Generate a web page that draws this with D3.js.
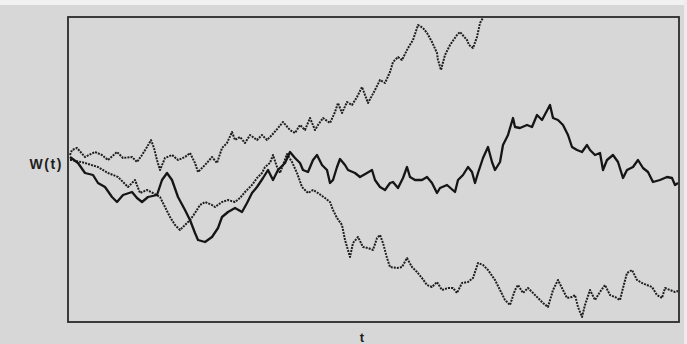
<!DOCTYPE html>
<html><head><meta charset="utf-8">
<script src="https://cdn.jsdelivr.net/npm/d3@7"></script>
<style>
html,body{margin:0;padding:0;background:#dadada;}
svg{display:block;}
</style></head>
<body>
<svg id="c" width="687" height="344"></svg>
<script>
// t = time step index, W = path value
const pathA_t = [2,4,9,17,27,34,40,49,55,64,69,74,79,83,86,89,92,97,104,110,117,122,127,130,137,144,149,154,159,164,167,172,177,182,189,194,199,204,210,215,222,227,232,237,242,247,250,255,262,267,270,274,279,284,289,294,297,300,307,312,317,322,325,330,334,340,345,350,355,359,364,369,370,373,377,382,389,392,399,401,405,409,412,415];
const pathA_W = [0.00,0.05,0.07,-0.02,0.03,0.00,-0.05,0.03,-0.03,-0.02,-0.07,0.00,0.08,0.15,0.07,-0.05,-0.15,-0.03,0.00,-0.05,-0.02,0.02,-0.08,-0.17,-0.10,-0.02,-0.08,0.07,0.12,0.23,0.15,0.18,0.12,0.20,0.15,0.20,0.15,0.20,0.27,0.33,0.25,0.22,0.30,0.25,0.37,0.25,0.30,0.37,0.32,0.43,0.52,0.42,0.53,0.50,0.58,0.68,0.60,0.52,0.65,0.75,0.72,0.83,0.93,0.98,0.95,1.07,1.15,1.30,1.27,1.22,1.13,1.02,0.95,0.85,1.00,1.10,1.20,1.23,1.15,1.10,1.07,1.18,1.32,1.37];

const pathB_t = [2,10,17,25,30,37,44,49,55,64,69,74,80,89,94,99,104,110,117,122,127,130,137,144,150,154,160,167,174,179,184,189,195,200,205,210,217,222,227,232,235,240,245,249,254,259,262,265,269,272,277,280,287,292,299,304,307,312,317,322,325,330,335,339,342,347,354,359,364,369,372,379,387,390,395,400,404,407,410,415,420,424,427,432,435,440,445,447,452,459,464,469,474,482,485,490,495,500,504,509,514,519,522,527,532,535,539,545,550,555,559,565,570,575,580,585,592,599,604,607,610];
const pathB_W = [-0.02,-0.08,-0.18,-0.20,-0.28,-0.32,-0.42,-0.47,-0.40,-0.37,-0.43,-0.47,-0.42,-0.40,-0.25,-0.18,-0.25,-0.42,-0.55,-0.65,-0.78,-0.85,-0.87,-0.82,-0.73,-0.62,-0.57,-0.53,-0.57,-0.48,-0.38,-0.32,-0.23,-0.15,-0.25,-0.15,-0.08,0.03,-0.03,-0.08,-0.15,-0.17,-0.05,0.00,-0.10,-0.15,-0.28,-0.25,-0.12,-0.04,-0.10,-0.15,-0.18,-0.22,-0.18,-0.15,-0.25,-0.32,-0.35,-0.28,-0.27,-0.33,-0.23,-0.12,-0.22,-0.25,-0.25,-0.22,-0.28,-0.38,-0.33,-0.30,-0.37,-0.25,-0.20,-0.12,-0.17,-0.28,-0.18,-0.03,0.08,-0.07,-0.15,-0.07,0.10,0.20,0.37,0.28,0.27,0.30,0.28,0.40,0.35,0.50,0.37,0.35,0.30,0.20,0.08,0.05,0.03,0.10,0.05,0.00,0.02,-0.15,-0.05,0.00,-0.07,-0.23,-0.15,-0.12,-0.05,-0.13,-0.17,-0.27,-0.25,-0.22,-0.23,-0.30,-0.28];

const pathC_t = [2,4,17,30,40,50,60,67,72,79,85,92,97,102,107,112,117,122,127,132,137,144,147,154,160,167,172,177,184,189,194,197,202,205,209,212,215,219,224,229,234,240,245,250,257,262,265,269,274,277,280,282,285,290,295,300,305,309,312,315,319,322,329,334,339,344,349,354,359,364,369,374,380,385,389,394,400,405,410,415,420,427,432,437,442,447,450,455,460,465,470,475,480,485,490,495,499,504,507,510,514,517,522,527,532,537,542,547,552,555,559,564,569,574,579,584,589,594,597,602,607,610];
const pathC_W = [-0.05,-0.05,-0.08,-0.12,-0.18,-0.22,-0.32,-0.25,-0.38,-0.35,-0.38,-0.42,-0.52,-0.62,-0.70,-0.75,-0.70,-0.65,-0.58,-0.50,-0.47,-0.50,-0.52,-0.47,-0.45,-0.47,-0.43,-0.37,-0.30,-0.23,-0.18,-0.12,-0.08,-0.00,-0.12,-0.18,-0.10,0.01,-0.07,-0.18,-0.32,-0.38,-0.35,-0.38,-0.43,-0.47,-0.55,-0.63,-0.70,-0.85,-0.95,-1.02,-0.88,-0.82,-0.92,-0.93,-0.95,-0.83,-0.80,-0.88,-1.03,-1.12,-1.13,-1.12,-1.03,-1.12,-1.17,-1.23,-1.30,-1.32,-1.27,-1.35,-1.33,-1.33,-1.38,-1.28,-1.27,-1.23,-1.08,-1.10,-1.15,-1.25,-1.35,-1.45,-1.50,-1.35,-1.30,-1.38,-1.33,-1.38,-1.43,-1.48,-1.52,-1.35,-1.25,-1.35,-1.43,-1.42,-1.40,-1.52,-1.62,-1.50,-1.35,-1.45,-1.37,-1.30,-1.40,-1.42,-1.45,-1.33,-1.18,-1.15,-1.25,-1.28,-1.30,-1.32,-1.40,-1.43,-1.33,-1.35,-1.37,-1.36];

const xLabel = "t";
const yLabel = "W(t)";

const svg = d3.select("#c");
const W = 687, H = 344;
const m = {left:68, top:17, right:679, bottom:322};

// paper background
svg.append("rect").attr("x",0).attr("y",0).attr("width",W).attr("height",H).attr("fill","#d7d7d7");
svg.append("rect").attr("x",0).attr("y",0).attr("width",W).attr("height",5).attr("fill","#f1f1f1");
svg.append("rect").attr("x",684).attr("y",0).attr("width",3).attr("height",H).attr("fill","#ececec");

const x = d3.scaleLinear().domain([0,611]).range([m.left, m.right]);
const y = d3.scaleLinear().domain([-1.67, 1.38]).range([m.bottom, m.top]);

svg.append("defs").append("clipPath").attr("id","clip")
  .append("rect").attr("x",m.left).attr("y",m.top).attr("width",m.right-m.left).attr("height",m.bottom-m.top);

const g = svg.append("g").attr("clip-path","url(#clip)");
const line = d3.line().x(d=>x(d[0])).y(d=>y(d[1]));
const zip = (a,b)=>a.map((v,i)=>[v,b[i]]);

[pathA_t, pathC_t].forEach((ts,k)=>{
  const ws = k===0 ? pathA_W : pathC_W;
  g.append("path").datum(zip(ts,ws)).attr("d",line)
    .attr("fill","none").attr("stroke","#1e1e1e").attr("stroke-width",2)
    .attr("stroke-dasharray","2 1.1").attr("stroke-linejoin","round");
});
g.append("path").datum(zip(pathB_t,pathB_W)).attr("d",line)
  .attr("fill","none").attr("stroke","#151515").attr("stroke-width",2.3)
  .attr("stroke-linejoin","round");

// frame
svg.append("rect").attr("x",m.left).attr("y",m.top).attr("width",m.right-m.left).attr("height",m.bottom-m.top)
  .attr("fill","none").attr("stroke","#2b2b2b").attr("stroke-width",1.8);

svg.append("text").attr("x",m.left-5).attr("y",y(0)+14).attr("text-anchor","end")
  .attr("font-family","Liberation Sans, Arial, sans-serif").attr("font-size",14).attr("font-weight","bold")
  .attr("letter-spacing",1.6)
  .attr("fill","#1e1e1e").text(yLabel);
svg.append("text").attr("x",x(294)).attr("y",342).attr("text-anchor","middle")
  .attr("font-family","Liberation Sans, Arial, sans-serif").attr("font-size",13).attr("font-weight","bold")
  .attr("fill","#1e1e1e").text(xLabel);
</script>
</body></html>
